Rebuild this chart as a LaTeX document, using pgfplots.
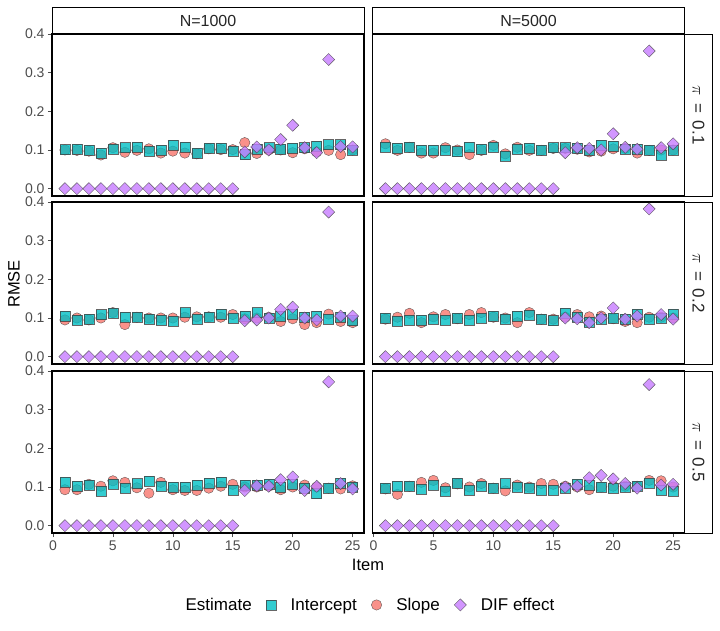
\documentclass[border=0pt]{standalone}
\usepackage{fontspec}
\setmainfont{Liberation Sans}
\usepackage{pgfplots}
\pgfplotsset{compat=1.18}
\usepackage{pgfplotstable}
\definecolor{cint}{HTML}{00BFC4}
\definecolor{cslope}{HTML}{F8766D}
\definecolor{cdif}{HTML}{C77CFF}
\definecolor{tickgray}{HTML}{4D4D4D}

\pgfplotstableread{
item int slope dif
1 0.101 0.100 0
2 0.103 0.099 0
3 0.099 0.097 0
4 0.092 0.087 0
5 0.102 0.106 0
6 0.106 0.094 0
7 0.108 0.099 0
8 0.097 0.103 0
9 0.099 0.092 0
10 0.112 0.097 0
11 0.108 0.092 0
12 0.092 0.090 0
13 0.104 0.103 0
14 0.104 0.101 0
15 0.097 0.101 0
16 0.088 0.119 0.095
17 0.103 0.091 0.108
18 0.106 0.100 0.100
19 0.103 0.100 0.127
20 0.105 0.093 0.164
21 0.106 0.103 0.106
22 0.111 0.095 0.093
23 0.114 0.099 0.334
24 0.114 0.088 0.109
25 0.099 0.100 0.108
}\tA
\pgfplotstableread{
item int slope dif
1 0.108 0.116 0
2 0.104 0.099 0
3 0.108 0.107 0
4 0.099 0.092 0
5 0.099 0.092 0
6 0.100 0.106 0
7 0.096 0.100 0
8 0.108 0.088 0
9 0.102 0.099 0
10 0.108 0.112 0
11 0.085 0.090 0
12 0.102 0.107 0
13 0.104 0.099 0
14 0.099 0.099 0
15 0.106 0.104 0
16 0.106 0.104 0.093
17 0.104 0.102 0.106
18 0.100 0.095 0.104
19 0.112 0.097 0.100
20 0.111 0.103 0.142
21 0.102 0.104 0.107
22 0.102 0.092 0.102
23 0.099 0.099 0.356
24 0.087 0.100 0.106
25 0.099 0.100 0.116
}\tB
\pgfplotstableread{
item int slope dif
1 0.105 0.095 0
2 0.095 0.100 0
3 0.098 0.095 0
4 0.109 0.100 0
5 0.112 0.114 0
6 0.102 0.083 0
7 0.102 0.102 0
8 0.098 0.100 0
9 0.095 0.100 0
10 0.091 0.100 0
11 0.114 0.102 0
12 0.097 0.103 0
13 0.102 0.103 0
14 0.110 0.102 0
15 0.100 0.109 0
16 0.105 0.098 0.093
17 0.114 0.100 0.095
18 0.100 0.102 0.100
19 0.105 0.091 0.122
20 0.110 0.098 0.128
21 0.102 0.083 0.100
22 0.105 0.088 0.095
23 0.097 0.110 0.374
24 0.102 0.091 0.105
25 0.093 0.088 0.105
}\tC
\pgfplotstableread{
item int slope dif
1 0.100 0.097 0
2 0.091 0.102 0
3 0.095 0.112 0
4 0.095 0.088 0
5 0.098 0.103 0
6 0.095 0.109 0
7 0.100 0.098 0
8 0.095 0.109 0
9 0.100 0.114 0
10 0.105 0.102 0
11 0.097 0.100 0
12 0.105 0.088 0
13 0.107 0.114 0
14 0.097 0.097 0
15 0.093 0.097 0
16 0.112 0.102 0.100
17 0.103 0.109 0.098
18 0.090 0.103 0.088
19 0.097 0.105 0.100
20 0.100 0.098 0.126
21 0.097 0.091 0.097
22 0.110 0.088 0.105
23 0.097 0.102 0.382
24 0.100 0.102 0.109
25 0.110 0.100 0.097
}\tD
\pgfplotstableread{
item int slope dif
1 0.112 0.093 0
2 0.102 0.093 0
3 0.105 0.107 0
4 0.090 0.102 0
5 0.107 0.116 0
6 0.097 0.112 0
7 0.109 0.098 0
8 0.116 0.084 0
9 0.103 0.112 0
10 0.100 0.093 0
11 0.100 0.091 0
12 0.105 0.091 0
13 0.110 0.097 0
14 0.112 0.102 0
15 0.091 0.107 0
16 0.105 0.100 0.091
17 0.105 0.100 0.103
18 0.107 0.102 0.102
19 0.100 0.093 0.119
20 0.107 0.100 0.126
21 0.097 0.105 0.091
22 0.083 0.100 0.102
23 0.097 0.097 0.372
24 0.110 0.095 0.109
25 0.100 0.103 0.095
}\tE
\pgfplotstableread{
item int slope dif
1 0.097 0.095 0
2 0.103 0.081 0
3 0.103 0.102 0
4 0.095 0.112 0
5 0.105 0.117 0
6 0.090 0.098 0
7 0.110 0.108 0
8 0.091 0.100 0
9 0.103 0.109 0
10 0.097 0.097 0
11 0.109 0.090 0
12 0.100 0.105 0
13 0.098 0.100 0
14 0.093 0.109 0
15 0.091 0.107 0
16 0.097 0.102 0.100
17 0.107 0.100 0.102
18 0.105 0.093 0.124
19 0.100 0.100 0.130
20 0.097 0.102 0.121
21 0.100 0.102 0.109
22 0.103 0.102 0.097
23 0.110 0.117 0.365
24 0.093 0.116 0.105
25 0.090 0.100 0.107
}\tF

\pgfplotsset{
  facet/.style={
    scale only axis, width=312pt, height=162pt,
    xmin=-0.08, xmax=25.95, ymin=-0.019, ymax=0.4,
    axis line style={black, line width=1.3pt},
    tick align=outside, major tick length=4pt, tick pos=left,
    tick style={tickgray, line width=0.6pt},
    xtick={0,5,10,15,20,25}, ytick={0,0.1,0.2,0.3,0.4},
    yticklabel style={/pgf/number format/fixed, /pgf/number format/fixed zerofill, /pgf/number format/precision=1},
    ticklabel style={font=\fontsize{14}{16}\selectfont, text=tickgray},
    /pgf/number format/assume math mode=true,
  },
  nox/.style={xtick=\empty},
  noy/.style={ytick=\empty},
  sslope/.style={only marks, mark=*, mark size=5.2pt, mark options={fill=cslope, fill opacity=0.8, draw=black!75, draw opacity=0.8, line width=0.4pt}},
  sint/.style={only marks, mark=square*, mark size=5pt, mark options={fill=cint, fill opacity=0.8, draw=black!75, draw opacity=0.8, line width=0.4pt}},
  sdif/.style={only marks, mark=square*, mark size=4.3pt, mark options={rotate=45, fill=cdif, fill opacity=0.8, draw=black!75, draw opacity=0.8, line width=0.4pt}},
}
\newcommand{\panel}[1]{%
  \addplot[sslope, forget plot] table[x=item, y=slope]{#1};
  \addplot[sint, forget plot] table[x=item, y=int]{#1};
  \addplot[sdif, forget plot] table[x=item, y=dif]{#1};
}
\newcommand{\pilab}[1]{$\pi$\hspace{0.45em}=\hspace{0.45em}#1}

\begin{document}
\begin{tikzpicture}
\useasboundingbox (0pt,0pt) rectangle (720pt,630pt);
% strips top
\draw[black, line width=0.9pt, fill=white] (52pt,596pt) rectangle (364pt,622.5pt);
\draw[black, line width=0.9pt, fill=white] (372.5pt,596pt) rectangle (684.5pt,622.5pt);
\node[font=\fontsize{16}{19}\selectfont, text=black!85] at (208pt,609.5pt) {N=1000};
\node[font=\fontsize{16}{19}\selectfont, text=black!85] at (528.5pt,609.5pt) {N=5000};
% strips right
\draw[black, line width=0.9pt, fill=white] (684.5pt,434pt) rectangle (712pt,596pt);
\draw[black, line width=0.9pt, fill=white] (684.5pt,266pt) rectangle (712pt,428pt);
\draw[black, line width=0.9pt, fill=white] (684.5pt,97pt) rectangle (712pt,259pt);
\node[rotate=-90, font=\fontsize{17}{20}\selectfont, text=black!85] at (698.5pt,515pt) {\pilab{0.1}};
\node[rotate=-90, font=\fontsize{17}{20}\selectfont, text=black!85] at (698.5pt,347pt) {\pilab{0.2}};
\node[rotate=-90, font=\fontsize{17}{20}\selectfont, text=black!85] at (698.5pt,178pt) {\pilab{0.5}};
% row 1
\begin{axis}[facet, nox, at={(52pt,434pt)}, anchor=south west]
\panel{\tA}
\end{axis}
\begin{axis}[facet, nox, noy, at={(372.5pt,434pt)}, anchor=south west]
\panel{\tB}
\end{axis}
% row 2
\begin{axis}[facet, nox, at={(52pt,266pt)}, anchor=south west]
\panel{\tC}
\end{axis}
\begin{axis}[facet, nox, noy, at={(372.5pt,266pt)}, anchor=south west]
\panel{\tD}
\end{axis}
% row 3
\begin{axis}[facet, at={(52pt,97pt)}, anchor=south west,
  legend style={at={(0.999,-0.444)}, anchor=center, draw=none, fill=none,
    legend columns=-1, font=\fontsize{17}{20}\selectfont,
    /tikz/column sep=12.5pt}]
\panel{\tE}
\addlegendimage{empty legend}\addlegendentry{Estimate}
\addlegendimage{sint}\addlegendentry{Intercept}
\addlegendimage{sslope}\addlegendentry{Slope}
\addlegendimage{sdif}\addlegendentry{DIF effect}
\end{axis}
\begin{axis}[facet, noy, at={(372.5pt,97pt)}, anchor=south west]
\panel{\tF}
\end{axis}
% axis titles
\node[rotate=90, font=\fontsize{16.5}{19}\selectfont] at (14pt,346pt) {RMSE};
\node[font=\fontsize{16.5}{19}\selectfont] at (368pt,65pt) {Item};
\end{tikzpicture}
\end{document}
